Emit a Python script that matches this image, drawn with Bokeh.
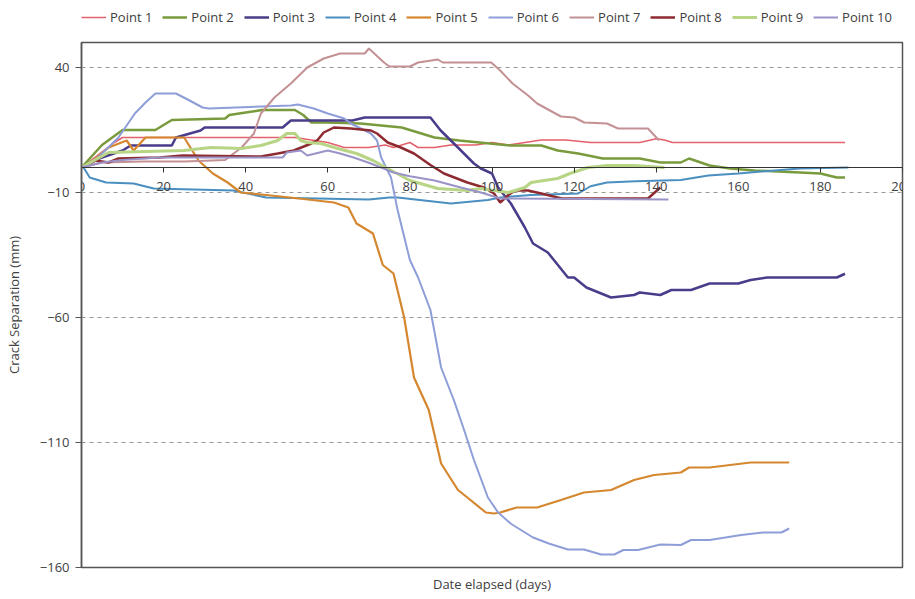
from bokeh.plotting import figure
from bokeh.layouts import column
from bokeh.models import Range1d, FixedTicker, Legend, LegendItem, Title
from bokeh.embed import file_html
from bokeh.resources import INLINE

# ---------------- data (days elapsed, crack separation mm) ----------------
series_names = ["Point 1", "Point 2", "Point 3", "Point 4", "Point 5",
                "Point 6", "Point 7", "Point 8", "Point 9", "Point 10"]

p1_days = [0, 4, 8, 10, 20, 40, 52, 56, 60, 64, 70, 74, 76, 80, 82, 86, 90, 96, 100, 104, 108, 112, 118, 124, 130, 136, 140, 142, 144, 160, 186]
p1_vals = [0, 5, 10, 12, 12, 12, 12, 11, 10, 8, 8, 9, 8, 10, 8, 8, 9, 9, 10, 9, 10, 11, 11, 10, 10, 10, 11.5, 11, 10, 10, 10]

p2_days = [0, 5, 10, 18, 22, 35, 36, 40, 44, 50, 52, 54, 56, 60, 68, 78, 86, 92, 104.6, 112, 116, 121, 127, 136, 141, 146, 148, 153, 158, 164, 175, 180, 184, 186]
p2_vals = [0, 9, 15, 15, 19, 19.6, 21, 22, 23, 23, 23, 21, 18, 18, 17.6, 16, 12, 10.8, 8.8, 8.8, 6.8, 5.6, 3.6, 3.6, 2, 2, 3.6, 0.8, -0.4, -1.2, -2, -2.4, -4, -4]

p3_days = [0, 5, 10, 12, 22, 23, 29, 30, 49, 51, 66, 69, 85, 87.5, 91.7, 95.6, 97.3, 100, 101.5, 104.6, 108, 110, 113.6, 118.5, 120, 123, 129, 134.6, 136, 141, 143.7, 148.5, 153, 160, 163, 167, 184, 186]
p3_vals = [0, 4, 6.8, 8.8, 8.8, 12, 14.8, 16, 16, 18.8, 18.8, 20, 20, 14.8, 8, 1.6, -0.4, -2.4, -8, -14.4, -24, -30.4, -34, -44, -44, -48, -52, -51, -50, -51, -49, -49, -46.4, -46.4, -45, -44, -44, -42.5]

p4_days = [0, 0.5, 2, 6, 12.7, 17.6, 37, 45, 70, 75, 77, 90, 99, 102, 109.5, 121, 124, 128, 135, 146, 152.7, 160, 165.6, 175, 186.8]
p4_vals = [0, 0, -4, -6, -6.4, -8.4, -9.2, -12, -12.8, -12, -12, -14.4, -13, -12, -11, -10.4, -7.5, -6, -5.5, -5, -3.2, -2.4, -1.6, -0.4, 0]

p5_days = [0, 3, 6.6, 11, 12.7, 15.6, 25, 28.5, 32, 35.6, 38.8, 45, 53, 61.5, 65, 67, 71, 73.4, 76, 78.6, 81, 84.6, 87.6, 91.7, 94, 98.5, 100.5, 102, 106, 111, 116.8, 122.4, 129, 134.6, 139.5, 146, 148, 153, 163, 172.4]
p5_vals = [0, 3, 8, 10.8, 6.8, 12, 12, 2.8, -2.4, -6, -10, -11, -12.4, -14, -16, -22.4, -26.4, -39, -42.4, -60, -84, -97, -118.4, -129, -132, -138, -138.4, -138, -136, -136, -133, -130, -129, -125, -123, -122, -120, -120, -118, -118]

p6_days = [0, 4, 9, 13, 15.6, 18, 23, 25.4, 29.5, 31, 51, 52.7, 56.6, 60, 64, 65.6, 70.5, 72, 73, 75.4, 77, 80, 82, 85, 87.6, 90.7, 93, 95.6, 99, 101.5, 104.6, 110, 114, 118.5, 122.4, 126.6, 129.8, 132, 135.6, 141, 146, 148.5, 153, 160.7, 166, 170.5, 172.4]
p6_vals = [0, 4, 12, 21.6, 26, 29.6, 29.6, 27.6, 24, 23.6, 24.8, 25.2, 23.6, 21.6, 19.6, 17.6, 13.6, 10.8, 4, -4, -17, -37, -44, -57, -80, -93, -104, -117, -132, -138, -142.5, -148, -150.5, -152.8, -152.8, -154.8, -154.8, -153, -153, -150.8, -151, -149, -149, -147, -146, -146, -144.4]

p7_days = [0, 5, 15, 25, 35, 39, 42, 43.7, 47, 51, 55, 59, 63, 69, 70, 73.7, 75, 80, 82, 86.8, 88, 99.8, 102, 105, 108.8, 111, 115, 116.8, 120, 122.5, 128, 130.7, 134.6, 138, 140.7]
p7_vals = [0, 2, 2.4, 2.4, 3, 8, 13.6, 21.6, 28, 33.6, 40, 43.6, 45.6, 45.6, 47.6, 42, 40.4, 40.4, 42, 43.2, 42, 42, 38.8, 33.6, 28.8, 25.6, 22, 20.4, 20, 18, 17.6, 15.6, 15.6, 15.6, 10.8]

p8_days = [0, 3.4, 6.6, 9, 19, 24.6, 43.7, 47.8, 51.7, 56, 57.5, 59, 61.5, 65.6, 70.5, 72, 74.6, 77.8, 81, 85, 88.3, 94, 98, 100.5, 102, 104, 105.6, 108.8, 112, 116, 117, 138, 141]
p8_vals = [0, 2.8, 2, 3.6, 4, 4.8, 4.4, 5.6, 6.8, 9.6, 11, 14, 16, 15.6, 14.8, 13.6, 10, 8, 5.6, 1, -2.4, -6, -8, -10.4, -14, -11, -9.2, -9.2, -10.4, -12, -12.4, -12.4, -8]

p9_days = [0, 6.6, 25, 31.5, 39, 43.7, 47.8, 50, 52, 53.4, 55, 58.3, 62.4, 67, 71, 80, 86.8, 94, 97.3, 100.5, 104, 108, 109.5, 112.7, 116, 119, 123.4, 128, 134.6, 142]
p9_vals = [0, 6, 6.8, 8, 7.6, 8.8, 10.8, 13.6, 13.6, 10.8, 10, 9.6, 7.6, 5.6, 2.8, -5.2, -8.4, -9.2, -8.4, -9.2, -10, -8, -6, -5.2, -4.4, -2.4, 0, 0.8, 0.8, 0]

p10_days = [0, 5, 10, 19, 39, 49, 50, 53.4, 55, 60, 63, 66.3, 69.8, 73, 76, 80, 86, 92.4, 97.3, 102, 143]
p10_vals = [0, 2, 3, 4, 4, 4, 6, 6.8, 4.8, 6.8, 5.6, 4, 2, 0, -2, -3.5, -5.2, -8, -10, -12.4, -12.8]

x_ticks = [0, 20, 40, 60, 80, 100, 120, 140, 160, 180, 200]
y_ticks = [40, -10, -60, -110, -160]

all_days = [p1_days, p2_days, p3_days, p4_days, p5_days, p6_days, p7_days, p8_days, p9_days, p10_days]
all_vals = [p1_vals, p2_vals, p3_vals, p4_vals, p5_vals, p6_vals, p7_vals, p8_vals, p9_vals, p10_vals]

colors = ["#E4606A", "#7A9B3D", "#4A3C8A", "#4A8FC0", "#D5872F",
          "#8E9ED8", "#C39094", "#8E2B31", "#B8D585", "#9A93C8"]
widths = [1.5, 2.5, 2.5, 2, 2.2, 2, 2, 2.5, 3, 2]

FONT = "Open Sans"
TXT = "#404040"
FW, FH = 821, 525
LEFT, RIGHT, TOP = 81, 12, 41
TOTAL_W = LEFT + FW + RIGHT

# ---------------- main chart ----------------
p = figure(frame_width=FW, frame_height=FH, output_backend="svg", toolbar_location=None,
           x_range=Range1d(0, 200), y_range=Range1d(-160, 50),
           min_border_left=LEFT, min_border_right=RIGHT, min_border_top=1, min_border_bottom=6)

p.background_fill_color = "white"
p.border_fill_color = "white"
p.outline_line_color = "#555555"
p.outline_line_width = 1.5

for d, v, c, w in zip(all_days, all_vals, colors, widths):
    p.line(d, v, line_color=c, line_width=w)

# x axis drawn at y = 0
xa = p.xaxis[0]
xa.fixed_location = 0
xa.ticker = FixedTicker(ticks=x_ticks)
xa.axis_line_color = "#333333"
xa.axis_line_width = 1.2
xa.major_tick_line_color = "#333333"
xa.major_tick_out = 5
xa.major_tick_in = 0
xa.minor_tick_line_color = None
xa.major_label_standoff = 9
xa.major_label_text_font = FONT
xa.major_label_text_font_size = "13px"
xa.major_label_text_color = TXT

ya = p.yaxis[0]
ya.ticker = FixedTicker(ticks=y_ticks)
ya.axis_line_color = "#555555"
ya.axis_line_width = 1.5
ya.major_tick_line_color = "#555555"
ya.major_tick_out = 6
ya.major_tick_in = 0
ya.minor_tick_line_color = None
ya.major_label_standoff = 6
ya.major_label_text_font = FONT
ya.major_label_text_font_size = "13px"
ya.major_label_text_color = TXT
ya.axis_label = "Crack Separation (mm)"
ya.axis_label_text_font = FONT
ya.axis_label_text_font_size = "13px"
ya.axis_label_text_font_style = "normal"
ya.axis_label_text_color = TXT
ya.axis_label_standoff = 14

p.xgrid.grid_line_color = None
p.ygrid.ticker = FixedTicker(ticks=y_ticks)
p.ygrid.grid_line_color = "#999999"
p.ygrid.grid_line_dash = "4 4"
p.ygrid.grid_line_width = 1

p.add_layout(Title(text="Date elapsed (days)", align="center", text_font=FONT,
                   text_font_size="13px", text_font_style="normal",
                   text_color=TXT, offset=0), "below")

# ---------------- legend strip above the chart ----------------
# its ranges are far from the data, so the series draw nothing here;
# they only supply the legend swatches
lf = figure(width=TOTAL_W, height=TOP, output_backend="svg", toolbar_location=None,
            x_axis_location=None, y_axis_location=None,
            x_range=Range1d(1000, 1001), y_range=Range1d(1000, 1001),
            min_border_left=0, min_border_right=0, min_border_top=0, min_border_bottom=0)
lf.outline_line_color = None
lf.grid.visible = False
lf.background_fill_color = "white"
lf.border_fill_color = "white"

items = []
for name, d, v, c, w in zip(series_names, all_days, all_vals, colors, widths):
    r = lf.line(d, v, line_color=c, line_width=w)
    items.append(LegendItem(label=name, renderers=[r]))

legend = Legend(items=items, orientation="horizontal", location=(0, 15),
                glyph_width=25, glyph_height=12, label_standoff=4, spacing=10,
                padding=0, margin=0, border_line_color=None,
                background_fill_alpha=0,
                label_text_font=FONT, label_text_font_size="13px",
                label_text_color=TXT)
lf.add_layout(legend, "center")

layout = column(lf, p, spacing=0)

open("out.html", "w").write(file_html(layout, INLINE))
